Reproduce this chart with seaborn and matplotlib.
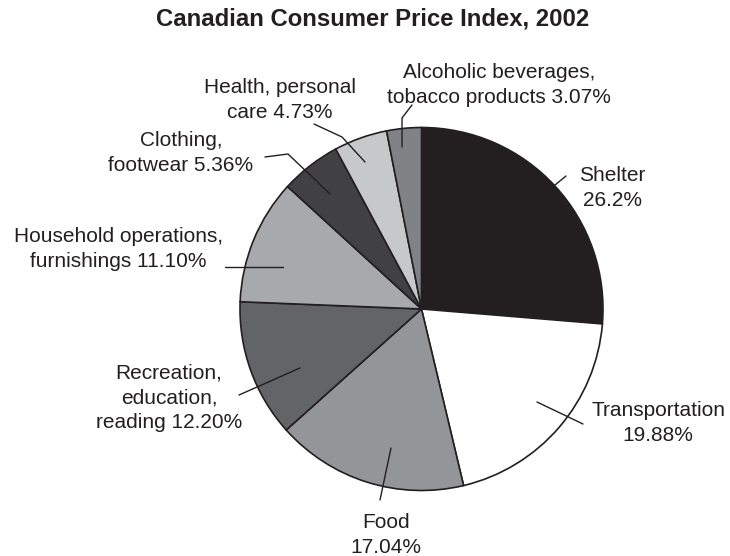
import matplotlib
matplotlib.use("Agg")
import matplotlib.pyplot as plt
import seaborn as sns

categories = ["Shelter", "Transportation", "Food", "Recreation, education, reading",
              "Household operations, furnishings", "Clothing, footwear",
              "Health, personal care", "Alcoholic beverages, tobacco products"]
values = [26.2, 19.88, 17.04, 12.20, 11.10, 5.36, 4.73, 3.07]
labels = ["Shelter\n26.2%", "Transportation\n19.88%", "Food\n17.04%",
          "Recreation,\neducation,\nreading 12.20%",
          "Household operations,\nfurnishings 11.10%",
          "Clothing,\nfootwear 5.36%", "Health, personal\ncare 4.73%",
          "Alcoholic beverages,\ntobacco products 3.07%"]
colors = ["#231f20", "#ffffff", "#939598", "#636466", "#a7a9ac", "#414042",
          "#c7c8ca", "#808285"]

sns.set_theme(style="white")
plt.rcParams['font.family'] = ['Liberation Sans', 'DejaVu Sans']

W, H = 730, 556
fig = plt.figure(figsize=(W / 100, H / 100), dpi=100)
ax = fig.add_axes([0, 0, 1, 1])

cx, cy, R = 421.5, H - 309, 181.5
ax.pie(values, colors=colors, startangle=90, counterclock=False,
       center=(cx, cy), radius=R,
       wedgeprops=dict(edgecolor="#231f20", linewidth=1.2))
ax.set_xlim(0, W)
ax.set_ylim(0, H)
ax.set_aspect("equal")
ax.axis("off")

def Y(y):
    return H - y

# label text positions (pixel coords, y down) and leader lines
label_pos = [
    (612, 188),
    (658, 423),
    (386, 535),
    (169, 398),
    (118, 249),
    (181, 153),
    (280, 100),
    (499, 85),
]
leaders = [
    [(555, 185), (566, 176)],
    [(537, 402), (583, 424)],
    [(391, 448), (380, 500)],
    [(300, 368), (239, 395)],
    [(283, 267), (225, 267)],
    [(330, 194), (288, 154), (265, 157)],
    [(365, 162), (342, 137), (314, 124)],
    [(402, 147), (402, 118), (412, 105)],
]

for (x, y), txt in zip(label_pos, labels):
    ax.text(x, Y(y), txt, ha="center", va="center", fontsize=15,
            linespacing=1.4, color="#231f20")
for pts in leaders:
    ax.plot([p[0] for p in pts], [Y(p[1]) for p in pts],
            color="#231f20", linewidth=1.0)

ax.text(373, Y(19), "Canadian Consumer Price Index, 2002", ha="center",
        va="center", fontsize=17.2, fontweight="bold", color="#231f20")

fig.savefig("out.png", dpi=100)
